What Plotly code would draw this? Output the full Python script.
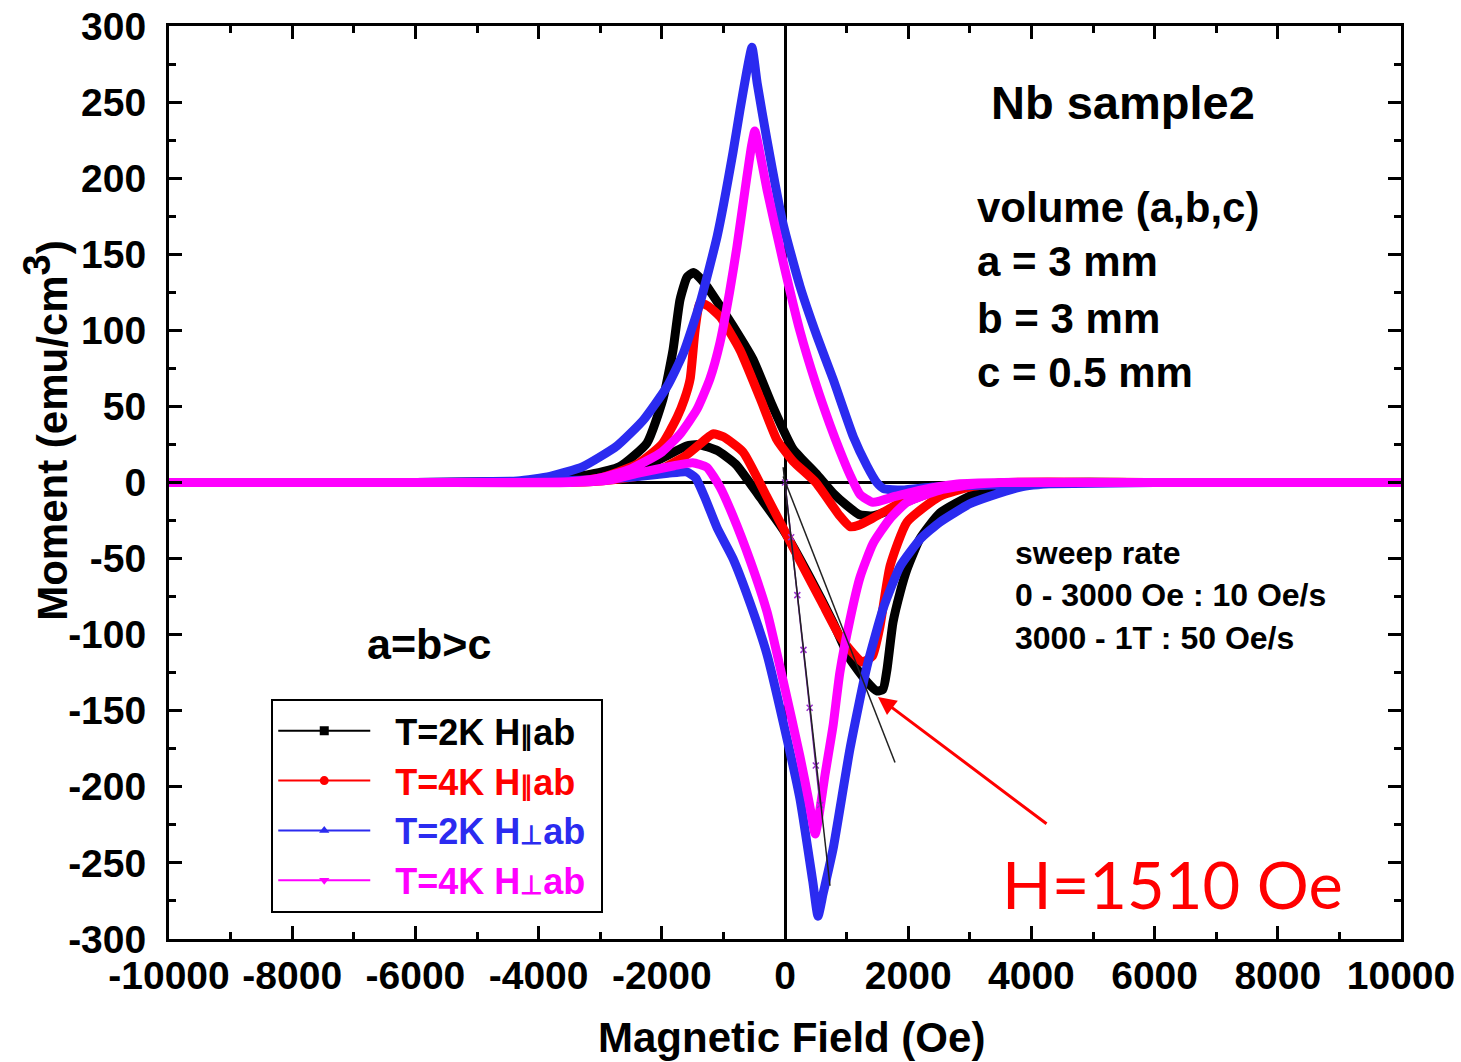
import plotly.graph_objects as go

# ---- data (H in Oe, M in emu/cm^3) ----
# each loop: "dn" = field sweeping down (+1T -> -1T), "up" = sweeping up (-1T -> +1T)

# T=2K, H || ab
blk_dn_h = [10000, 6000, 4000, 3200, 2600, 2200, 1900, 1650, 1400, 1200, 1000, 780, 500, 130, -200, -520, -800, -1055, -1270, -1420, -1490, -1590, -1705, -1818, -1980, -2240, -2680, -3210, -4000, -6000, -10000]
blk_dn_m = [0, 0, 0, -1, -4, -9, -14, -19, -22, -21, -15, -7, 6, 22, 50, 81, 100, 116, 129, 136, 138, 135, 120, 87, 55, 26, 10.5, 5, 1, 0, 0]
blk_up_h = [-10000, -6000, -4000, -3200, -2600, -2200, -1900, -1600, -1400, -1100, -800, -400, -30, 400, 780, 1055, 1330, 1490, 1590, 1655, 1753, 1870, 1980, 2190, 2516, 3050, 3600, 4500, 6000, 10000]
blk_up_m = [0, 0, 1, 3, 7, 12, 18, 24, 25, 21, 12, -10, -31, -62, -92, -116, -131, -137, -136, -123, -92, -72, -57, -37, -20, -8, -2, 0, 0, 0]

# T=4K, H || ab
red_dn_h = [10000, 6000, 4000, 3000, 2516, 1980, 1705, 1400, 1200, 1055, 890, 500, 130, -130, -400, -730, -1055, -1250, -1380, -1460, -1540, -1630, -1750, -2000, -2400, -3000, -3600, -6000, -10000]
red_dn_m = [0, 0, 0, -2, -5, -11, -17, -24, -28, -29, -22, 0, 14, 28, 55, 87, 109, 116, 118, 100, 68, 55, 43, 25, 12, 3, 0.5, 0, 0]
red_up_h = [-10000, -6000, -3600, -3000, -2400, -2000, -1600, -1300, -1170, -1000, -680, -300, -30, 300, 600, 890, 1100, 1250, 1420, 1540, 1705, 1980, 2516, 3050, 3600, 6000, 10000]
red_up_m = [0, 0, 0, 1, 4, 9, 18, 28, 32, 30, 20, -9, -30, -56, -79, -101, -112, -118, -114, -95, -55, -26, -9, -2.6, 0, 0, 0]

# T=2K, H perp ab
blu_dn_h = [10000, 6000, 4000, 3000, 2400, 1900, 1600, 1490, 1330, 1110, 780, 520, 243, -32, -292, -450, -536, -617, -730, -844, -1100, -1380, -1650, -1915, -2300, -2730, -3280, -3815, -4350, -6000, -10000]
blu_dn_m = [0, 0, -1, -2, -3, -5, -4, 0, 11, 30, 68, 96, 129, 170, 225, 262, 286, 271, 245, 217, 162, 118, 85, 63, 41, 24, 10.5, 4, 1, 0, 0]
blu_up_h = [-10000, -6000, -4000, -3000, -2400, -1900, -1600, -1450, -1300, -1100, -844, -560, -292, -32, 243, 450, 536, 620, 780, 1055, 1330, 1600, 1870, 2200, 2516, 3000, 3330, 3860, 4500, 6000, 10000]
blu_up_m = [0, 0, 1, 2, 4, 6, 7, 3, -10, -30, -50, -80, -113, -157, -208, -262, -285, -270, -241, -175, -121, -82, -55, -37, -26, -14, -9, -2.6, -0.5, 0, 0]

# T=4K, H perp ab
mag_dn_h = [10000, 6000, 3500, 2800, 2200, 1800, 1430, 1220, 1055, 900, 730, 500, 240, -30, -290, -400, -490, -540, -650, -780, -900, -1055, -1220, -1430, -1700, -2000, -2500, -3000, -3500, -6000, -10000]
mag_dn_m = [0, 0, 0, -1, -5, -9, -13, -8, 5, 20, 38, 65, 100, 145, 192, 215, 231, 222, 192, 155, 125, 92, 68, 48, 32, 20, 9, 3, 0.5, 0, 0]
mag_up_h = [-10000, -6000, -3500, -2800, -2400, -1800, -1500, -1270, -1055, -844, -560, -292, -32, 243, 400, 490, 540, 650, 780, 890, 1055, 1220, 1430, 1700, 1980, 2516, 3000, 3500, 6000, 10000]
mag_up_m = [0, 0, 0, 2, 6, 11, 13, 10, -3, -22, -52, -85, -130, -180, -212, -231, -222, -192, -160, -125, -90, -62, -40, -24, -13, -5, -1.5, 0, 0, 0]

# initial (virgin) curve, H perp ab, and the two straight guide lines
virgin_h = [0, 100, 200, 300, 400, 500, 570]
virgin_m = [0, -36, -74, -110, -148, -186, -212]
fit_perp_h = [-30, 730]
fit_perp_m = [10, -265]
fit_par_h = [-30, 1786]
fit_par_m = [4, -184]

# arrow pointing at the deviation field
arrow_h = [4270, 1510]
arrow_m = [-225, -141]

legend_names = ["T=2K H", "T=4K H", "T=2K H", "T=4K H"]
legend_sym = ["\u2225", "\u2225", "\u22a5", "\u22a5"]
colors = ["#000000", "#ff0000", "#2b2bf0", "#ff00ff"]
markers = ["square", "circle", "triangle-up", "triangle-down"]

x_ticks = list(range(-10000, 10001, 2000))
x_ticktext = ["-10000", "-8000", "-6000", "-4000", "-2000", "0", "2000", "4000", "6000", "8000", "10000"]
y_ticks = list(range(-300, 301, 50))
y_ticktext = ["-300", "-250", "-200", "-150", "-100", "-50", "0", "50", "100", "150", "200", "250", "300"]

FONT = "Liberation Sans, Arial, sans-serif"

fig = go.Figure()

loops = [
    (blk_dn_h + blk_up_h, blk_dn_m + blk_up_m),
    (red_dn_h + red_up_h, red_dn_m + red_up_m),
    (blu_dn_h + blu_up_h, blu_dn_m + blu_up_m),
    (mag_dn_h + mag_up_h, mag_dn_m + mag_up_m),
]
for (h, m), c in zip(loops, colors):
    fig.add_trace(go.Scatter(x=h, y=m, mode="lines",
                             line=dict(color=c, width=9, shape="spline", smoothing=0.5),
                             showlegend=False, hoverinfo="skip"))

fig.add_trace(go.Scatter(x=virgin_h, y=virgin_m, mode="lines+markers",
                         line=dict(color="#7a1fb0", width=1.5),
                         marker=dict(symbol="x-thin", size=6, line=dict(color="#9b30d0", width=1.5)),
                         showlegend=False, hoverinfo="skip"))
fig.add_trace(go.Scatter(x=fit_perp_h, y=fit_perp_m, mode="lines",
                         line=dict(color="#222222", width=1.5), showlegend=False, hoverinfo="skip"))
fig.add_trace(go.Scatter(x=fit_par_h, y=fit_par_m, mode="lines",
                         line=dict(color="#222222", width=1.5), showlegend=False, hoverinfo="skip"))

# legend-only entries (thin line with a marker, coloured text)
for name, sym, c, mk in zip(legend_names, legend_sym, colors, markers):
    fig.add_trace(go.Scatter(
        x=[None], y=[None], mode="lines+markers",
        line=dict(color=c, width=2), marker=dict(symbol=mk, size=9, color=c),
        name=f"<span style='color:{c}'>\u00a0\u00a0{name}<span style='font-size:26px'>{sym}</span>ab\u00a0</span>",
    ))

ann_font = dict(family=FONT, size=42, color="black", weight="bold")
small_font = dict(family=FONT, size=32, color="black", weight="bold")
annotations = [
    dict(x=5487, y=250, text="Nb sample2", font=dict(family=FONT, size=47, color="black", weight="bold")),
    dict(x=3084, y=181, text="volume (a,b,c)", xanchor="left", font=ann_font),
    dict(x=3084, y=145, text="a = 3 mm", xanchor="left", font=ann_font),
    dict(x=3084, y=108, text="b = 3 mm", xanchor="left", font=ann_font),
    dict(x=3084, y=72, text="c = 0.5 mm", xanchor="left", font=ann_font),
    dict(x=3700, y=-46, text="sweep rate", xanchor="left", font=small_font),
    dict(x=3700, y=-74, text="0 - 3000 Oe : 10 Oe/s", xanchor="left", font=small_font),
    dict(x=3700, y=-102, text="3000 - 1T : 50 Oe/s", xanchor="left", font=small_font),
    dict(x=-5780, y=-106, text="a=b>c", font=dict(family=FONT, size=43, color="black", weight="bold")),
    dict(x=3490, y=-264, text="H=1510 Oe", xanchor="left",
         font=dict(family="Lato, Open Sans, sans-serif", size=65, color="#ff0000")),
]
for a in annotations:
    a.update(xref="x", yref="y", showarrow=False)

annotations.append(dict(
    x=arrow_h[1], y=arrow_m[1], ax=arrow_h[0], ay=arrow_m[0],
    xref="x", yref="y", axref="x", ayref="y", text="",
    showarrow=True, arrowhead=2, arrowsize=1.2, arrowwidth=3, arrowcolor="#ff0000",
))
annotations.append(dict(
    x=-0.1, y=0.5575, xref="paper", yref="paper", showarrow=False, textangle=-90,
    xanchor="center", yanchor="middle",
    text="Moment (emu/cm<sup><span style='font-size:38px'>3</span></sup>)",
    font=dict(family=FONT, size=42, color="black", weight="bold"),
))
annotations.append(dict(
    x=0.505, y=-0.108, xref="paper", yref="paper", showarrow=False,
    xanchor="center", yanchor="middle",
    text="Magnetic Field (Oe)", font=dict(family=FONT, size=42, color="black", weight="bold"),
))

axis_common = dict(
    showline=True, linewidth=3, linecolor="black", mirror="ticks",
    ticks="inside", ticklen=13, tickwidth=3, tickcolor="black",
    showgrid=False, zeroline=True, zerolinecolor="black", zerolinewidth=2.5,
    automargin=False, tickmode="array", ticklabeloverflow="allow",
    tickfont=dict(family=FONT, size=39, color="black", weight="bold"),
)

fig.update_layout(
    width=1461, height=1062,
    margin=dict(l=169, r=60, t=26, b=123, autoexpand=False),
    paper_bgcolor="white", plot_bgcolor="white",
    xaxis=dict(range=[-10000, 10000], tickvals=x_ticks, ticktext=x_ticktext,
               minor=dict(dtick=1000, ticks="inside", ticklen=7, tickwidth=3, tickcolor="black"),
               ticklabelstandoff=0, **axis_common),
    yaxis=dict(range=[-300, 300], tickvals=y_ticks, ticktext=y_ticktext,
               minor=dict(dtick=25, ticks="inside", ticklen=7, tickwidth=3, tickcolor="black"),
               ticklabelstandoff=12, **axis_common),
    legend=dict(x=0.083, y=0.263, xanchor="left", yanchor="top",
                bgcolor="white", bordercolor="black", borderwidth=2,
                itemwidth=92, tracegroupgap=0,
                font=dict(family=FONT, size=36, color="black", weight="bold")),
    annotations=annotations,
    showlegend=True,
)

# drop the page's default 8px body margin so the figure sits at the window corner
fig.write_html("out.html", config={"displayModeBar": False},
               post_script="document.body.style.margin='0';")
